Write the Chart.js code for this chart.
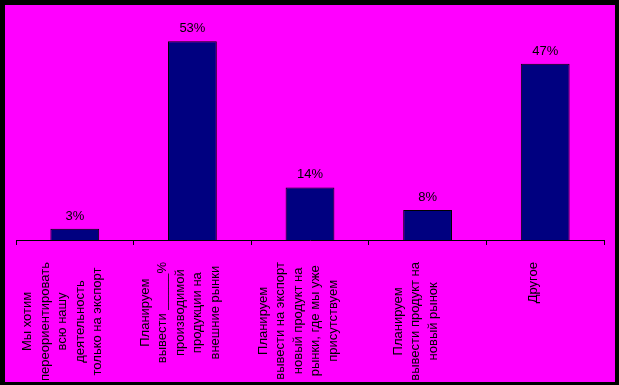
<!DOCTYPE html>
<html>
<head>
<meta charset="utf-8">
<script src="https://cdn.jsdelivr.net/npm/chart.js@4/dist/chart.umd.min.js"></script>
<style>
  html, body { margin: 0; padding: 0; background: #000; }
  body { width: 619px; height: 385px; position: relative; overflow: hidden; }
  #wrap { position: absolute; left: 5px; top: 5px; width: 610px; height: 377px; background: #FF00FF; }
  canvas { display: block; }
</style>
</head>
<body>
<div id="wrap"><canvas id="c" width="610" height="377"></canvas></div>
<script>
// Data
const categories = [
  ["Мы хотим", "переориентировать", "всю нашу", "деятельность", "только на экспорт"],
  ["Планируем", "вывести _____%", "производимой", "продукции на", "внешние рынки"],
  ["Планируем", "вывести на экспорт", "новый продукт на", "рынки, где мы уже", "присутствуем"],
  ["Планируем", "вывести продукт на", "новый рынок"],
  ["Другое"]
];
const values = [3, 53, 14, 8, 47];
const valueLabels = ["3%", "53%", "14%", "8%", "47%"];

const FONT = '13px "Liberation Sans", Arial, sans-serif';

const valueLabelPlugin = {
  id: 'valueLabels',
  afterDatasetsDraw(chart) {
    const ctx = chart.ctx;
    const meta = chart.getDatasetMeta(0);
    ctx.save();
    ctx.font = FONT;
    ctx.fillStyle = '#000';
    ctx.textAlign = 'center';
    ctx.textBaseline = 'alphabetic';
    meta.data.forEach((bar, i) => {
      ctx.fillText(valueLabels[i], bar.x, bar.y - 9);
    });
    ctx.restore();
  }
};

const catLabelPlugin = {
  id: 'catLabels',
  afterDraw(chart) {
    const ctx = chart.ctx;
    const xs = chart.scales.x;
    const lineH = 17.5;
    ctx.save();
    ctx.font = FONT;
    ctx.fillStyle = '#000';
    ctx.textAlign = 'center';
    ctx.textBaseline = 'middle';
    categories.forEach((lines, i) => {
      const x = xs.getPixelForValue(i) - 12;
      const n = lines.length;
      const maxW = Math.max(...lines.map(l => ctx.measureText(l).width));
      const cy = xs.top + 22 + maxW / 2;
      lines.forEach((line, j) => {
        const cx = x + (j - (n - 1) / 2) * lineH;
        ctx.save();
        ctx.translate(cx, cy);
        ctx.rotate(-Math.PI / 2);
        ctx.fillText(line, 0, 0);
        ctx.restore();
      });
    });
    ctx.restore();
  }
};

new Chart(document.getElementById('c'), {
  type: 'bar',
  data: {
    labels: categories,
    datasets: [{
      data: values,
      backgroundColor: '#000080',
      borderColor: '#000000',
      borderWidth: 1,
      barPercentage: 0.415,
      categoryPercentage: 1
    }]
  },
  options: {
    responsive: false,
    animation: false,
    events: [],
    layout: { padding: { top: 11, left: 11, right: 11, bottom: 0 } },
    plugins: { legend: { display: false }, tooltip: { enabled: false }, title: { display: false } },
    scales: {
      x: {
        grid: { display: true, drawOnChartArea: false, drawTicks: true, tickLength: 5, color: '#000', offset: true, lineWidth: 1 },
        border: { display: true, color: '#000', width: 1 },
        ticks: { display: false },
        afterFit(scale) { scale.height = 142; }
      },
      y: {
        display: false,
        min: 0,
        max: 59.7
      }
    }
  },
  plugins: [valueLabelPlugin, catLabelPlugin]
});
</script>
</body>
</html>
